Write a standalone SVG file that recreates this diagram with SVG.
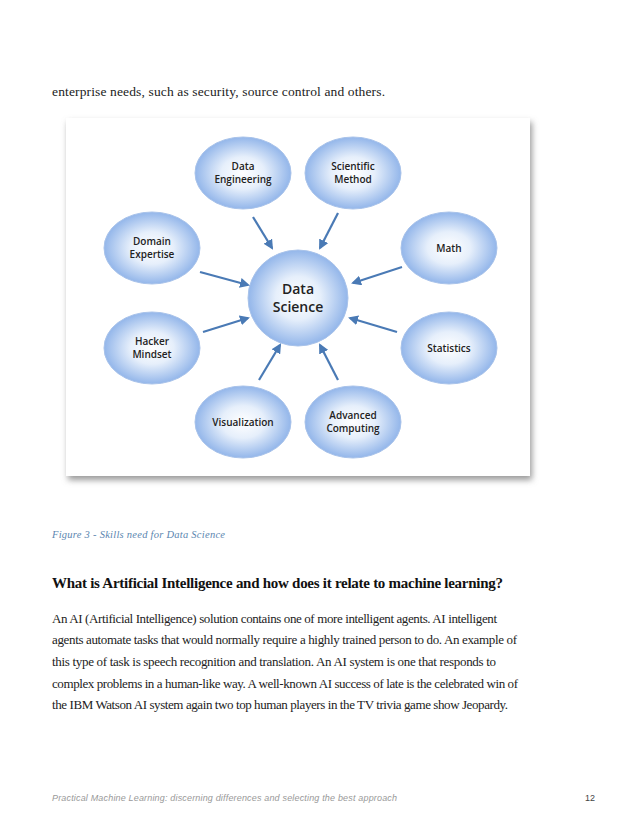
<svg xmlns="http://www.w3.org/2000/svg" width="638" height="826" viewBox="0 0 638 826">
<defs>
<radialGradient id="g" cx="50%" cy="50%" r="50%">
<stop offset="0" stop-color="#ffffff"/>
<stop offset="0.45" stop-color="#e6effb"/>
<stop offset="1" stop-color="#93b6ea"/>
</radialGradient>
<filter id="sh" x="-10%" y="-10%" width="120%" height="120%"><feGaussianBlur stdDeviation="3"/></filter>
<marker id="ah" markerWidth="10" markerHeight="10" refX="8" refY="5" orient="auto" markerUnits="userSpaceOnUse"><path d="M0,0 L10,5 L0,10 z" fill="#4a7ab5"/></marker>
</defs>
<style>
.n{fill:url(#g);stroke:#a9c3ea;stroke-width:1}
.l{font-family:"Open Sans","DejaVu Sans",sans-serif;font-size:10px;font-weight:600;fill:#222;text-anchor:middle}
.b{font-family:"Liberation Serif",serif;font-size:13px;fill:#222}
.c line{stroke:#4a7ab5;stroke-width:2.2;marker-end:url(#ah)}
</style>
<rect width="638" height="826" fill="#fff"/>
<text class="b" x="52" y="96" style="font-size:13.5px" textLength="333">enterprise needs, such as security, source control and others.</text>
<rect x="68" y="122" width="464" height="358" fill="#999" filter="url(#sh)"/>
<rect x="66" y="118" width="464" height="358" fill="#fff"/>
<g id="center"><ellipse class="n" cx="298" cy="298" rx="50" ry="48"/><text class="l" style="font-size:14px" x="298" y="294">Data</text><text class="l" style="font-size:14px" x="298" y="312">Science</text></g>
<g id="de"><ellipse class="n" cx="243" cy="173" rx="48" ry="36"/><text class="l" x="243" y="170">Data</text><text class="l" x="243" y="183">Engineering</text></g>
<g id="sm"><ellipse class="n" cx="353" cy="173" rx="48" ry="36"/><text class="l" x="353" y="170">Scientific</text><text class="l" x="353" y="183">Method</text></g>
<g id="dom"><ellipse class="n" cx="152" cy="248" rx="48" ry="36"/><text class="l" x="152" y="245">Domain</text><text class="l" x="152" y="258">Expertise</text></g>
<g id="math"><ellipse class="n" cx="449" cy="248" rx="48" ry="36"/><text class="l" x="449" y="252">Math</text></g>
<g id="hack"><ellipse class="n" cx="152" cy="348" rx="48" ry="36"/><text class="l" x="152" y="345">Hacker</text><text class="l" x="152" y="358">Mindset</text></g>
<g id="stat"><ellipse class="n" cx="449" cy="348" rx="48" ry="36"/><text class="l" x="449" y="352">Statistics</text></g>
<g id="vis"><ellipse class="n" cx="243" cy="422" rx="48" ry="36"/><text class="l" x="243" y="426">Visualization</text></g>
<g id="ac"><ellipse class="n" cx="353" cy="422" rx="48" ry="36"/><text class="l" x="353" y="419">Advanced</text><text class="l" x="353" y="432">Computing</text></g>
<g class="c">
<line x1="253" y1="217" x2="272" y2="248"/>
<line x1="338" y1="213" x2="320" y2="248"/>
<line x1="200" y1="272" x2="248" y2="285"/>
<line x1="402" y1="267" x2="353" y2="283"/>
<line x1="203" y1="332" x2="248" y2="318"/>
<line x1="397" y1="332" x2="350" y2="318"/>
<line x1="259" y1="380" x2="280" y2="345"/>
<line x1="338" y1="380" x2="320" y2="345"/>
</g>
<text x="52" y="538" textLength="173" style="font-family:'Liberation Serif',serif;font-style:italic;font-size:10.5px;fill:#5b86b0">Figure 3 - Skills need for Data Science</text>
<text x="52" y="588" textLength="451" style="font-family:'Liberation Serif',serif;font-weight:bold;font-size:15px;fill:#111">What is Artificial Intelligence and how does it relate to machine learning?</text>
<text class="b" x="52" y="623" textLength="445">An AI (Artificial Intelligence) solution contains one of more intelligent agents. AI intelligent</text>
<text class="b" x="52" y="644" textLength="465">agents automate tasks that would normally require a highly trained person to do. An example of</text>
<text class="b" x="52" y="666" textLength="444">this type of task is speech recognition and translation.  An AI system is one that responds to</text>
<text class="b" x="52" y="688" textLength="466">complex problems in a human-like way.  A well-known AI success of late is the celebrated win of</text>
<text class="b" x="52" y="709" textLength="456">the IBM Watson AI system again two top human players in the TV trivia game show Jeopardy.</text>
<text x="52" y="801" textLength="345" style="font-family:'Liberation Sans',sans-serif;font-style:italic;font-size:9px;fill:#999">Practical Machine Learning: discerning differences and selecting the best approach</text>
<text x="585" y="801" style="font-family:'Liberation Sans',sans-serif;font-size:9px;fill:#444">12</text>
</svg>
